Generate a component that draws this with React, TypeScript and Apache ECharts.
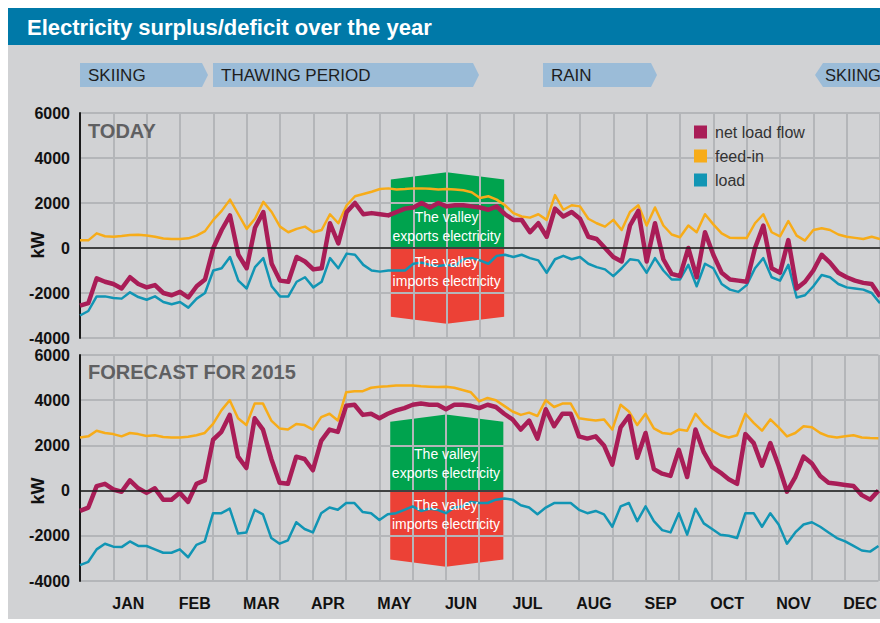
import React, { useEffect, useRef } from "react";
import * as echarts from "echarts";

// ---- data (x index = quarter of a half-month, 0..96) ----
const MONTHS = ["JAN", "FEB", "MAR", "APR", "MAY", "JUN", "JUL", "AUG", "SEP", "OCT", "NOV", "DEC"];
const SERIES_NAMES = ["net load flow", "feed-in", "load"];
const PANEL_TITLES = ["TODAY", "FORECAST FOR 2015"];
const SEASONS = ["SKIING", "THAWING PERIOD", "RAIN", "SKIING"];

const TODAY_FEEDIN = [
  340, 340, 650, 520, 500, 530, 580, 590, 560, 500,
  420, 400, 400, 430, 550, 750, 1250, 1650, 2150, 1500,
  850, 1300, 2050, 1600, 950, 700, 850, 950, 700, 800,
  1500, 1100, 1900, 2300, 2400, 2500, 2620, 2650, 2600, 2620,
  2650, 2650, 2630, 2600, 2620, 2600, 2570, 2480, 2220, 2300,
  2150, 1900, 1550, 1400, 1350, 1500, 1250, 2350, 1700, 1900,
  1850, 1300, 1100, 950, 1250, 800, 1600, 1900, 1000, 1800,
  1000, 600, 480, 1000, 700, 1500, 1050, 650, 450, 440,
  440, 1100, 1500, 700, 520, 1200, 550, 330, 800, 880,
  800, 600, 500, 450, 400, 500, 400,
];
const TODAY_NET = [
  -2560, -2450, -1350, -1500, -1600, -1800, -1300, -1600, -1750, -1650,
  -2000, -2100, -1950, -2200, -1700, -1400, 0, 800, 1450, -300,
  -900, 900, 1600, -700, -1450, -1500, -400, -600, -950, -900,
  1100, 200, 1600, 2000, 1500, 1550, 1500, 1450, 1600, 1750,
  1800, 2000, 1800, 2000, 1850, 1900, 1900, 1850, 1800, 1700,
  1850, 1500, 1250, 1250, 700, 1100, 500, 1750, 1400, 1600,
  1300, 500, 400, 0, -400, -600, 1000, 1650, -600, 1100,
  -500, -1150, -1250, 0, -1300, 700, -300, -1100, -1400, -1450,
  -1500, 0, 1000, -900, -1100, 350, -1800, -1500, -1000, -300,
  -650, -1100, -1300, -1450, -1550, -1600, -2150,
];
const TODAY_LOAD = [
  -3000, -2800, -2150, -2150, -2220, -2250, -1970, -2180, -2300, -2150,
  -2400, -2500, -2400, -2650, -2250, -2000, -1000, -900, -400, -1450,
  -1800, -850, -450, -1700, -2150, -2150, -1500, -1300, -1750, -1500,
  -450, -900, -250, -300, -750, -1000, -1050, -1000, -1000, -1000,
  -700, -650, -750, -800, -750, -800, -500, -450, -550, -700,
  -350, -300, -400, -300, -450, -550, -1100, -500, -350, -500,
  -400, -700, -850, -950, -1250, -900, -500, -550, -1100, -450,
  -1000, -1400, -1400, -750, -1700, -700, -900, -1600, -1850, -1950,
  -1650, -900, -450, -1300, -1450, -750, -2200, -2100, -1700, -1200,
  -1300, -1600, -1750, -1800, -1850, -2000, -2450,
];
const FC_FEEDIN = [
  2350, 2400, 2650, 2550, 2500, 2400, 2550, 2500, 2420, 2450,
  2370, 2350, 2350, 2380, 2450, 2550, 2950, 3550, 4000, 3200,
  2900, 3850, 3850, 3100, 2750, 2700, 2950, 2900, 2700, 3250,
  3400, 3100, 4350, 4400, 4400, 4550, 4600, 4620, 4650, 4650,
  4650, 4620, 4600, 4580, 4600, 4550, 4450, 4350, 3950, 4100,
  4000, 3750, 3500, 3350, 3450, 3300, 4000, 3700, 3850, 3850,
  3200, 3150, 3100, 3150, 2700, 3800, 3500, 2900, 3400, 2750,
  2550, 2500, 2700, 2650, 3400, 2950, 2650, 2450, 2350, 2450,
  3400, 3000, 2650, 3150, 2800, 2400, 2550, 2850, 2800, 2550,
  2400, 2350, 2400, 2450, 2350, 2330, 2320,
];
const FC_NET = [
  -900, -750, 200, 300, 50, -50, 450, 100, -100, 100,
  -400, -400, -100, -500, 300, 450, 2250, 2600, 3350, 1500,
  1000, 3200, 2700, 1400, 350, 300, 1500, 1400, 900, 2200,
  2700, 2600, 3750, 3800, 3350, 3400, 3200, 3400, 3550, 3650,
  3800, 3850, 3800, 3800, 3600, 3800, 3800, 3750, 3650, 3800,
  3700, 3400, 3150, 2700, 3100, 2300, 3600, 2850, 3400, 3400,
  2400, 2300, 2400, 2000, 1150, 2800, 3300, 1450, 2550, 950,
  750, 650, 1800, 600, 2700, 1700, 1050, 800, 500, 300,
  2500, 2100, 1100, 2100, 1100, -50, 600, 1500, 1200, 650,
  350, 300, 250, 200, -200, -400, 0,
];
const FC_LOAD = [
  -3300, -3150, -2600, -2350, -2480, -2500, -2250, -2450, -2450, -2600,
  -2750, -2750, -2600, -2950, -2400, -2250, -1000, -1000, -800, -1900,
  -1850, -850, -1050, -2100, -2350, -2200, -1400, -1700, -1850, -1000,
  -750, -850, -550, -550, -950, -1000, -1300, -1050, -1000, -850,
  -700, -900, -800, -850, -1000, -750, -700, -500, -550, -550,
  -400, -350, -400, -650, -750, -1050, -750, -550, -550, -550,
  -850, -1000, -900, -1050, -1600, -700, -550, -1350, -700, -1350,
  -1750, -1850, -1000, -1950, -800, -1450, -1700, -1950, -2000, -2100,
  -1000, -1000, -1600, -1000, -1500, -2350, -1850, -1500, -1400, -1600,
  -1850, -2100, -2250, -2450, -2650, -2700, -2450,
];

// export / import zone (x from, centre, to) and (edge, peak) in kW
const ZONE_X = [37.3, 44, 50.9];
const ZONE_Y = [3050, 3370];
const ZONE_TEXT_Y = [
  [970, -1060],
  [1190, -1050],
];

const C_NET = "#a91d57";
const C_FEED = "#f7ac19";
const C_LOAD = "#1195b4";
const C_GREEN = "#00a34e";
const C_RED = "#ec4136";
const C_BG = "#d1d2d4";
const C_GRID = "#b4b6b9";
const C_BAR = "#0079a8";
const C_BANNER = "#9bbcd8";
const FONT = '"Liberation Sans", Arial, sans-serif';

const toPairs = (arr: number[]) => arr.map((v, i) => [i, v]);

export default function App() {
  const ref = useRef<HTMLDivElement>(null);
  useEffect(() => {
    if (!ref.current) return;
    const chart = echarts.init(ref.current, null, { renderer: "svg" });

    const grids = [
      { left: 72, top: 105, width: 800, height: 225 },
      { left: 72, top: 347, width: 800, height: 226 },
    ];
    const valueX = (g: number) => ({
      gridIndex: g,
      type: "value",
      min: 0,
      max: 96,
      interval: 4,
      position: "bottom",
      axisLine: { show: false },
      axisTick: { show: false },
      axisLabel: { show: false },
      splitLine: { show: true, lineStyle: { color: C_GRID, width: 2 } },
    });
    const yAx = (g: number) => ({
      gridIndex: g,
      type: "value",
      min: -4000,
      max: 6000,
      interval: 2000,
      axisLine: { show: true, lineStyle: { color: "#1a1a1a", width: 2 } },
      axisTick: { show: false },
      axisLabel: {
        fontSize: 16,
        fontWeight: "bold",
        color: "#111",
        margin: 10,
        fontFamily: FONT,
        formatter: (v: number) => String(v),
      },
      splitLine: { show: true, lineStyle: { color: C_GRID, width: 2 } },
    });

    const zoneSeries = (g: number) => ({
      type: "custom",
      xAxisIndex: g,
      yAxisIndex: g,
      z: -1,
      silent: true,
      data: [[ZONE_X[1], 0]],
      renderItem: (_p: any, api: any) => {
        const p = (x: number, y: number) => api.coord([x, y]);
        const [x0, xc, x1] = ZONE_X;
        const [e, pk] = ZONE_Y;
        return {
          type: "group",
          children: [
            { type: "polygon", shape: { points: [p(x0, 0), p(x0, e), p(xc, pk), p(x1, e), p(x1, 0)] }, style: { fill: C_GREEN } },
            { type: "polygon", shape: { points: [p(x0, 0), p(x0, -e), p(xc, -pk), p(x1, -e), p(x1, 0)] }, style: { fill: C_RED } },
          ],
        };
      },
    });
    const zoneText = (g: number) => ({
      type: "custom",
      xAxisIndex: g,
      yAxisIndex: g,
      z: 10,
      silent: true,
      data: [[ZONE_X[1], 0]],
      renderItem: (_p: any, api: any) => {
        const a = api.coord([ZONE_X[1], ZONE_TEXT_Y[g][0]]);
        const b = api.coord([ZONE_X[1], ZONE_TEXT_Y[g][1]]);
        const st = (t: string) => ({
          text: t,
          fill: "#fff",
          fontSize: 14,
          fontFamily: FONT,
          align: "center",
          verticalAlign: "middle",
          lineHeight: 19,
        });
        return {
          type: "group",
          children: [
            { type: "text", x: a[0], y: a[1], style: st("The valley\nexports electricity") },
            { type: "text", x: b[0], y: b[1], style: st("The valley\nimports electricity") },
          ],
        };
      },
    });
    const line = (g: number, name: string, data: number[], color: string, width: number, extra: any = {}) => ({
      type: "line",
      name,
      xAxisIndex: g,
      yAxisIndex: g,
      data: toPairs(data),
      showSymbol: false,
      symbol: "none",
      itemStyle: { color },
      lineStyle: { color, width, join: "round" },
      ...extra,
    });
    const zero = {
      markLine: {
        silent: true,
        symbol: ["none", "none"],
        label: { show: false },
        lineStyle: { color: "#1a1a1a", width: 1.5, type: "solid" },
        data: [{ yAxis: 0 }],
      },
    };

    const panels = [
      [TODAY_FEEDIN, TODAY_LOAD, TODAY_NET],
      [FC_FEEDIN, FC_LOAD, FC_NET],
    ];
    const series: any[] = [];
    panels.forEach((pd, g) => {
      series.push(zoneSeries(g));
      series.push(line(g, SERIES_NAMES[1], pd[0], C_FEED, 2.5, zero));
      series.push(line(g, SERIES_NAMES[2], pd[1], C_LOAD, 2.5));
      series.push(line(g, SERIES_NAMES[0], pd[2], C_NET, 4.5));
      series.push(zoneText(g));
    });

    const banner = (x0: number, x1: number, dir: number) => {
      const y0 = 55, y1 = 79, ym = 67;
      const pts = dir > 0
        ? [[x0, y0], [x1, y0], [x1 + 6, ym], [x1, y1], [x0, y1]]
        : [[x0, ym], [x0 + 8, y0], [x1, y0], [x1, y1], [x0 + 8, y1]];
      return { type: "polygon", shape: { points: pts }, style: { fill: C_BANNER } };
    };
    const bannerText = (x: number, t: string, size = 17) => ({
      type: "text",
      x,
      y: 67,
      z: 5,
      style: { text: t, fill: "#1e1e1e", font: `${size}px ${FONT}`, verticalAlign: "middle" },
    });

    chart.setOption({
      animation: false,
      backgroundColor: C_BG,
      grid: grids,
      xAxis: [
        valueX(0),
        valueX(1),
        {
          gridIndex: 1,
          type: "category",
          data: MONTHS,
          boundaryGap: true,
          position: "bottom",
          axisLine: { show: false },
          axisTick: { show: false },
          splitLine: { show: false },
          axisLabel: { fontSize: 16, fontWeight: "bold", color: "#111", margin: 14, fontFamily: FONT, padding: [0, 0, 0, 30] },
        },
      ],
      yAxis: [yAx(0), yAx(1)],
      legend: {
        data: SERIES_NAMES,
        orient: "vertical",
        left: 681,
        top: 111,
        itemWidth: 13,
        itemHeight: 13,
        itemGap: 8,
        icon: "rect",
        selectedMode: false,
        itemStyle: { borderWidth: 0 },
        lineStyle: { width: 0 },
        textStyle: { fontSize: 16, color: "#333", fontFamily: FONT, padding: [0, 0, 0, 3] },
      },
      graphic: [
        { type: "rect", shape: { x: 0, y: 0, width: 872, height: 37 }, style: { fill: C_BAR } },
        {
          type: "text", x: 19, y: 19, z: 5,
          style: { text: "Electricity surplus/deficit over the year", fill: "#fff", font: `bold 22px ${FONT}`, verticalAlign: "middle" },
        },
        banner(72, 194, 1),
        banner(205, 465, 1),
        banner(535, 643, 1),
        banner(807, 872, -1),
        bannerText(80, SEASONS[0]),
        bannerText(213, SEASONS[1]),
        bannerText(543, SEASONS[2]),
        bannerText(817, SEASONS[3], 16.5),
        {
          type: "text", x: 80, y: 123, z: 5,
          style: { text: PANEL_TITLES[0], fill: "#5f6062", font: `bold 20px ${FONT}`, verticalAlign: "middle" },
        },
        {
          type: "text", x: 80, y: 364, z: 5,
          style: { text: PANEL_TITLES[1], fill: "#5f6062", font: `bold 20px ${FONT}`, verticalAlign: "middle" },
        },
        {
          type: "text", x: 30, y: 237, rotation: Math.PI / 2, z: 5,
          style: { text: "kW", fill: "#111", font: `bold 18px ${FONT}`, align: "center", verticalAlign: "middle" },
        },
        {
          type: "text", x: 30, y: 483, rotation: Math.PI / 2, z: 5,
          style: { text: "kW", fill: "#111", font: `bold 18px ${FONT}`, align: "center", verticalAlign: "middle" },
        },
      ],
      series,
    });

    return () => chart.dispose();
  }, []);
  return (
    <div
      ref={ref}
      style={{ position: "absolute", left: 8, top: 8, width: 872, height: 611 }}
    />
  );
}
